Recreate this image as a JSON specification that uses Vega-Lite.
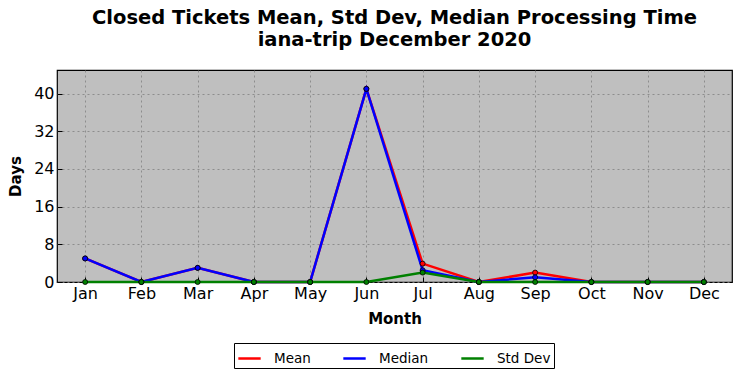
{
  "$schema": "https://vega.github.io/schema/vega-lite/v6.json",
  "width": 675,
  "height": 212,
  "autosize": {"type": "none"},
  "padding": {"left": 57, "top": 70, "right": 9, "bottom": 96},
  "background": "white",
  "title": {
    "text": ["Closed Tickets Mean, Std Dev, Median Processing Time", "iana-trip December 2020"],
    "font": "DejaVu Sans",
    "fontSize": 19.5,
    "fontWeight": "bold",
    "color": "black",
    "anchor": "middle",
    "frame": "group",
    "lineHeight": 22,
    "offset": 20
  },
  "config": {
    "view": {"fill": "#bfbfbf", "stroke": "black", "strokeWidth": 1.2},
    "axis": {
      "labelFont": "DejaVu Sans",
      "labelFontSize": 16,
      "labelColor": "black",
      "titleFont": "DejaVu Sans",
      "titleFontSize": 15,
      "titleFontWeight": "bold",
      "titleColor": "black",
      "domain": false,
      "tickColor": "black",
      "tickSize": -5,
      "labelPadding": 8,
      "grid": true,
      "gridColor": "#808080",
      "gridDash": [2, 3],
      "gridWidth": 0.8
    }
  },
  "data": {
    "values": [
      {"month": "Jan", "series": "Mean", "value": 5},
      {"month": "Feb", "series": "Mean", "value": 0},
      {"month": "Mar", "series": "Mean", "value": 3},
      {"month": "Apr", "series": "Mean", "value": 0},
      {"month": "May", "series": "Mean", "value": 0},
      {"month": "Jun", "series": "Mean", "value": 41},
      {"month": "Jul", "series": "Mean", "value": 3.9},
      {"month": "Aug", "series": "Mean", "value": 0},
      {"month": "Sep", "series": "Mean", "value": 2},
      {"month": "Oct", "series": "Mean", "value": 0},
      {"month": "Nov", "series": "Mean", "value": 0},
      {"month": "Dec", "series": "Mean", "value": 0},
      {"month": "Jan", "series": "Median", "value": 5},
      {"month": "Feb", "series": "Median", "value": 0},
      {"month": "Mar", "series": "Median", "value": 3},
      {"month": "Apr", "series": "Median", "value": 0},
      {"month": "May", "series": "Median", "value": 0},
      {"month": "Jun", "series": "Median", "value": 41},
      {"month": "Jul", "series": "Median", "value": 2.5},
      {"month": "Aug", "series": "Median", "value": 0},
      {"month": "Sep", "series": "Median", "value": 1},
      {"month": "Oct", "series": "Median", "value": 0},
      {"month": "Nov", "series": "Median", "value": 0},
      {"month": "Dec", "series": "Median", "value": 0},
      {"month": "Jan", "series": "Std Dev", "value": 0},
      {"month": "Feb", "series": "Std Dev", "value": 0},
      {"month": "Mar", "series": "Std Dev", "value": 0},
      {"month": "Apr", "series": "Std Dev", "value": 0},
      {"month": "May", "series": "Std Dev", "value": 0},
      {"month": "Jun", "series": "Std Dev", "value": 0},
      {"month": "Jul", "series": "Std Dev", "value": 2},
      {"month": "Aug", "series": "Std Dev", "value": 0},
      {"month": "Sep", "series": "Std Dev", "value": 0},
      {"month": "Oct", "series": "Std Dev", "value": 0},
      {"month": "Nov", "series": "Std Dev", "value": 0},
      {"month": "Dec", "series": "Std Dev", "value": 0}
    ]
  },
  "encoding": {
    "x": {
      "field": "month",
      "type": "ordinal",
      "sort": ["Jan","Feb","Mar","Apr","May","Jun","Jul","Aug","Sep","Oct","Nov","Dec"],
      "scale": {"type": "point", "padding": 0.5},
      "axis": {"title": "Month", "labelAngle": 0, "titlePadding": 10}
    },
    "y": {
      "field": "value",
      "type": "quantitative",
      "scale": {"domain": [0, 45], "nice": false},
      "axis": {"title": "Days", "values": [0, 8, 16, 24, 32, 40], "titlePadding": 10}
    },
    "color": {
      "field": "series",
      "type": "nominal",
      "scale": {"domain": ["Mean", "Median", "Std Dev"], "range": ["#ff0000", "#0000ff", "#008000"]},
      "legend": {
        "title": null,
        "orient": "none",
        "legendX": 177,
        "legendY": 273,
        "direction": "horizontal",
        "columns": 3,
        "symbolType": "stroke",
        "symbolStrokeWidth": 2.5,
        "symbolSize": 500,
        "labelFont": "DejaVu Sans",
        "labelFontSize": 13.5,
        "labelColor": "black",
        "columnPadding": 27,
        "strokeColor": "black",
        "fillColor": "white",
        "padding": 3,
        "labelOffset": 12
      }
    }
  },
  "layer": [
    {"mark": {"type": "line", "strokeWidth": 2.5}},
    {"mark": {"type": "point", "filled": true, "opacity": 1, "size": 25, "stroke": "black", "strokeWidth": 0.8}}
  ]
}
